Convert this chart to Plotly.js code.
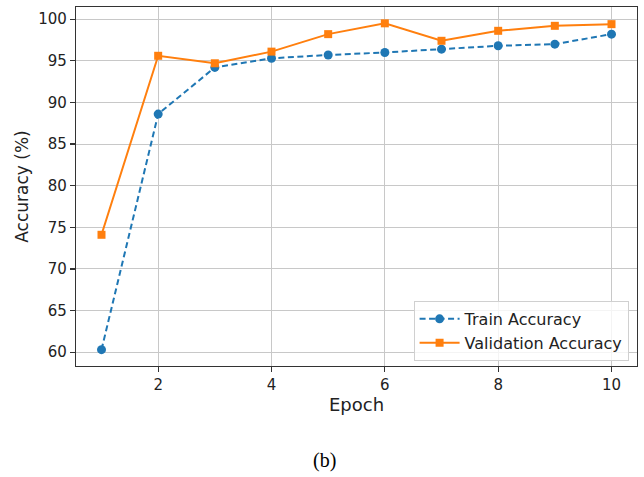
<!DOCTYPE html>
<html>
<head>
<meta charset="utf-8">
<script src="https://cdn.plot.ly/plotly-3.0.1.min.js"></script>
<style>html,body{margin:0;padding:0;background:#fff;}#chart{width:644px;height:477px;}</style>
</head>
<body>
<div id="chart"></div>
<script>
const epochs = [1, 2, 3, 4, 5, 6, 7, 8, 9, 10];
const trainAcc = [60.3, 88.6, 94.2, 95.3, 95.7, 96.0, 96.4, 96.8, 97.0, 98.2];
const valAcc = [74.1, 95.6, 94.7, 96.1, 98.2, 99.5, 97.4, 98.6, 99.2, 99.4];
const xTicks = [2, 4, 6, 8, 10];
const yTicks = [60, 65, 70, 75, 80, 85, 90, 95, 100];

const traces = [
  {x: epochs, y: trainAcc, name: 'Train Accuracy', type: 'scatter', mode: 'lines+markers',
   line: {color: '#1f77b4', width: 2, dash: '6px,3.5px'},
   marker: {symbol: 'circle', size: 9, color: '#1f77b4'}},
  {x: epochs, y: valAcc, name: 'Validation Accuracy', type: 'scatter', mode: 'lines+markers',
   line: {color: '#ff7f0e', width: 2},
   marker: {symbol: 'square', size: 8, color: '#ff7f0e'}}
];

const fontFam = 'DejaVu Sans, sans-serif';
const layout = {
  width: 644, height: 477,
  margin: {l: 76, r: 7, t: 7, b: 111},
  paper_bgcolor: '#fff', plot_bgcolor: '#fff',
  font: {family: fontFam, size: 15, color: '#222'},
  showlegend: true,
  legend: {x: 0.985, y: 0.014, xanchor: 'right', yanchor: 'bottom',
           bgcolor: 'rgba(255,255,255,0.8)', bordercolor: '#d0d0d0', borderwidth: 1,
           font: {family: fontFam, size: 16, color: '#222'}, tracegroupgap: 0, itemwidth: 40},
  xaxis: {range: [0.55, 10.45], tickvals: xTicks, ticktext: xTicks.map(String),
          showgrid: true, gridcolor: '#c8c8c8', gridwidth: 1, zeroline: false,
          showline: true, linecolor: '#333', linewidth: 1.2, mirror: true,
          ticks: 'outside', ticklen: 5, tickcolor: '#333', tickwidth: 1.2,
          tickfont: {family: fontFam, size: 15, color: '#222'},
          title: {text: 'Epoch', font: {family: fontFam, size: 18, color: '#222'}, standoff: 5}},
  yaxis: {range: [58.34, 101.46], tickvals: yTicks, ticktext: yTicks.map(String),
          showgrid: true, gridcolor: '#c8c8c8', gridwidth: 1, zeroline: false,
          showline: true, linecolor: '#333', linewidth: 1.2, mirror: true,
          ticks: 'outside', ticklen: 5, tickcolor: '#333', tickwidth: 1.2,
          tickfont: {family: fontFam, size: 15, color: '#222'},
          title: {text: 'Accuracy (%)', font: {family: fontFam, size: 17, color: '#222'}, standoff: 5}},
  annotations: [
    {text: '(b)', xref: 'paper', yref: 'paper', x: 0.443, y: -0.262, xanchor: 'center', yanchor: 'middle',
     showarrow: false, font: {family: 'Liberation Serif, serif', size: 20, color: '#000'}}
  ]
};

Plotly.newPlot('chart', traces, layout, {displayModeBar: false, staticPlot: true});
</script>
</body>
</html>
